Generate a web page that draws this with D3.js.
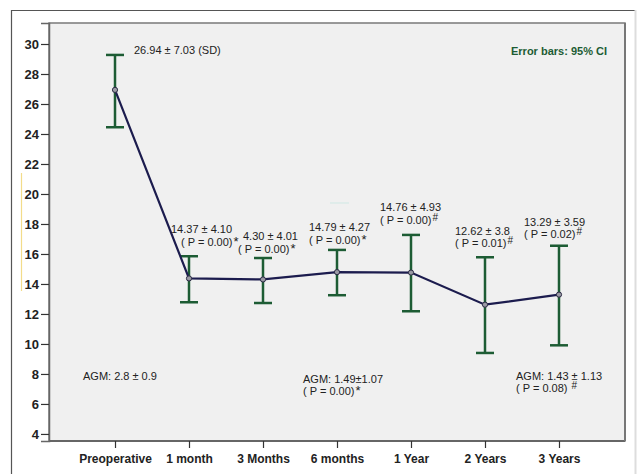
<!DOCTYPE html>
<html>
<head>
<meta charset="utf-8">
<script src="https://cdn.jsdelivr.net/npm/d3@7"></script>
<style>
  body { margin: 0; background: #fff; }
  svg { display: block; font-family: "Liberation Sans", Arial, sans-serif; }
</style>
</head>
<body>
<div id="chart"></div>
<script>
// data
let categories = ['Preoperative', '1 month', '3 Months', '6 months', '1 Year', '2 Years', '3 Years']
let means = [26.94, 14.37, 14.30, 14.79, 14.76, 12.62, 13.29]
let ciLow = [24.45, 12.78, 12.73, 13.25, 12.18, 9.40, 9.91]
let ciHigh = [29.27, 15.85, 15.73, 16.27, 17.27, 15.78, 16.55]
let yTicks = [4, 6, 8, 10, 12, 14, 16, 18, 20, 22, 24, 26, 28, 30]

// text notes: [category, line1, line2, mark]
let meanNotes = [
  ['Preoperative', '26.94 ± 7.03 (SD)', '', ''],
  ['1 month', '14.37 ± 4.10', '( P = 0.00)', '*'],
  ['3 Months', '4.30 ± 4.01', '( P = 0.00)', '*'],
  ['6 months', '14.79 ± 4.27', '( P = 0.00)', '*'],
  ['1 Year', '14.76 ± 4.93', '( P = 0.00)', '#'],
  ['2 Years', '12.62 ± 3.8', '( P = 0.01)', '#'],
  ['3 Years', '13.29 ± 3.59', '( P = 0.02)', '#']
]
let agmNotes = [
  ['Preoperative', 'AGM: 2.8 ± 0.9', '', ''],
  ['6 months', 'AGM: 1.49±1.07', '( P = 0.00)', '*'],
  ['3 Years', 'AGM: 1.43 ± 1.13', '( P = 0.08) ', '#']
]
let agmValue = 7.63

// placement offsets of the notes, relative to point: [dx, dy, indent of 2nd line]
let meanOffsets = {
  'Preoperative': [19, -36, 0],
  '1 month': [-18, -45, 10],
  '3 Months': [-20, -39, -5],
  '6 months': [-28, -41, 0],
  '1 Year': [-31, -61.5, 0],
  '2 Years': [-30, -70, 0],
  '3 Years': [-35, -69, 0]
}
let agmOffsets = {'Preoperative': [-32, 0], '6 months': [-34, 3], '3 Years': [-43, 0]}

let width = 637, height = 474
let margin = {top: 23, right: 12, bottom: 33, left: 49}
let innerWidth = width - margin.left - margin.right
let innerHeight = height - margin.top - margin.bottom

let svg = d3.select('#chart').append('svg')
  .attr('width', width).attr('height', height)

// outer frame
svg.append('path')
  .attr('d', 'M11.5,474 V10.5 H635.5')
  .attr('fill', 'none').attr('stroke', '#555').attr('stroke-width', 1.2)
svg.append('line').attr('x1', 635.5).attr('x2', 635.5).attr('y1', 10).attr('y2', 474)
  .attr('stroke', '#ddd').attr('stroke-width', 2)

let g = svg.append('g').attr('transform', 'translate(' + margin.left + ',' + margin.top + ')')

let x = d3.scalePoint().domain(categories).range([0, innerWidth]).padding(0.892)
let y = d3.scaleLinear().domain([3.53, 31.4]).range([innerHeight, 0])

g.append('rect')
  .attr('width', innerWidth).attr('height', innerHeight)
  .attr('fill', '#f0f0f0').attr('stroke', '#7a7a7a').attr('stroke-width', 1.5)
g.append('line').attr('x1', 0).attr('x2', innerWidth).attr('y1', innerHeight).attr('y2', innerHeight)
  .attr('stroke', '#666').attr('stroke-width', 2)
g.append('line').attr('x1', innerWidth).attr('x2', innerWidth).attr('y1', 0).attr('y2', innerHeight)
  .attr('stroke', '#777').attr('stroke-width', 2)

// faint scan artefacts
svg.append('line').attr('x1', 21.5).attr('x2', 21.5).attr('y1', 173).attr('y2', 291)
  .attr('stroke', '#f3dc8a').attr('stroke-width', 1.2)
svg.append('line').attr('x1', 330).attr('x2', 349).attr('y1', 203).attr('y2', 203)
  .attr('stroke', '#cfe8e4').attr('stroke-width', 1)

let yAxis = g.append('g')
  .call(d3.axisLeft(y).tickValues(yTicks).tickSize(8).tickPadding(2).tickFormat(d3.format('d')))
yAxis.select('.domain').attr('stroke', '#666').attr('stroke-width', 1.5)
yAxis.selectAll('.tick line').attr('stroke', '#333').attr('stroke-width', 1.2)
yAxis.selectAll('.tick text')
  .attr('font-size', 13).attr('font-weight', 'bold').attr('fill', '#222')
  .attr('font-family', '"Liberation Sans", Arial, sans-serif')

let xAxis = g.append('g').attr('transform', 'translate(0,' + innerHeight + ')')
  .call(d3.axisBottom(x).tickSize(7).tickPadding(6))
xAxis.select('.domain').remove()
xAxis.selectAll('.tick line').attr('stroke', '#333').attr('stroke-width', 1.2)
xAxis.selectAll('.tick text')
  .attr('font-size', 12).attr('font-weight', 'bold').attr('fill', '#222')
  .attr('font-family', '"Liberation Sans", Arial, sans-serif')

// error bars
let green = '#1d5c34'
let bars = g.selectAll('.ebar').data(categories).enter().append('g').attr('class', 'ebar')
bars.append('line')
  .attr('x1', d => x(d)).attr('x2', d => x(d))
  .attr('y1', (d, i) => y(ciHigh[i])).attr('y2', (d, i) => y(ciLow[i]))
  .attr('stroke', green).attr('stroke-width', 2.5)
bars.append('line')
  .attr('x1', d => x(d) - 9).attr('x2', d => x(d) + 9)
  .attr('y1', (d, i) => y(ciHigh[i])).attr('y2', (d, i) => y(ciHigh[i]))
  .attr('stroke', green).attr('stroke-width', 2.5)
bars.append('line')
  .attr('x1', d => x(d) - 9).attr('x2', d => x(d) + 9)
  .attr('y1', (d, i) => y(ciLow[i])).attr('y2', (d, i) => y(ciLow[i]))
  .attr('stroke', green).attr('stroke-width', 2.5)

// mean line
let line = d3.line().x((d, i) => x(categories[i])).y(d => y(d))
g.append('path').datum(means)
  .attr('d', line).attr('fill', 'none')
  .attr('stroke', '#1c1c4e').attr('stroke-width', 2.2)
g.selectAll('.pt').data(means).enter().append('circle')
  .attr('cx', (d, i) => x(categories[i])).attr('cy', d => y(d)).attr('r', 2.6)
  .attr('fill', '#9a9aa4').attr('stroke', '#2a2a44').attr('stroke-width', 1)

// two-line note with superscript mark
function note(cx, cy, l1, l2, mark, indent) {
  g.append('text').attr('x', cx).attr('y', cy)
    .attr('font-size', 11).attr('fill', '#222').text(l1)
  if (l2) {
    let t2 = g.append('text').attr('x', cx + indent).attr('y', cy + 12.5)
      .attr('font-size', 11).attr('fill', '#222')
    t2.append('tspan').text(l2)
    if (mark === '*') {
      t2.append('tspan').attr('dx', 1).attr('dy', 0).attr('font-size', 13).text(mark)
    } else {
      t2.append('tspan').attr('dx', 1).attr('dy', -3).attr('font-size', 10).text(mark)
    }
  }
}

meanNotes.forEach(n => {
  let i = categories.indexOf(n[0])
  let o = meanOffsets[n[0]]
  note(x(n[0]) + o[0], y(means[i]) + o[1], n[1], n[2], n[3], o[2])
})

agmNotes.forEach(n => {
  let o = agmOffsets[n[0]]
  note(x(n[0]) + o[0], y(agmValue) + o[1], n[1], n[2], n[3], 0)
})

g.append('text')
  .attr('x', innerWidth - 114).attr('y', 32)
  .attr('font-size', 11).attr('font-weight', 'bold').attr('fill', green)
  .text('Error bars: 95% CI')
</script>
</body>
</html>
